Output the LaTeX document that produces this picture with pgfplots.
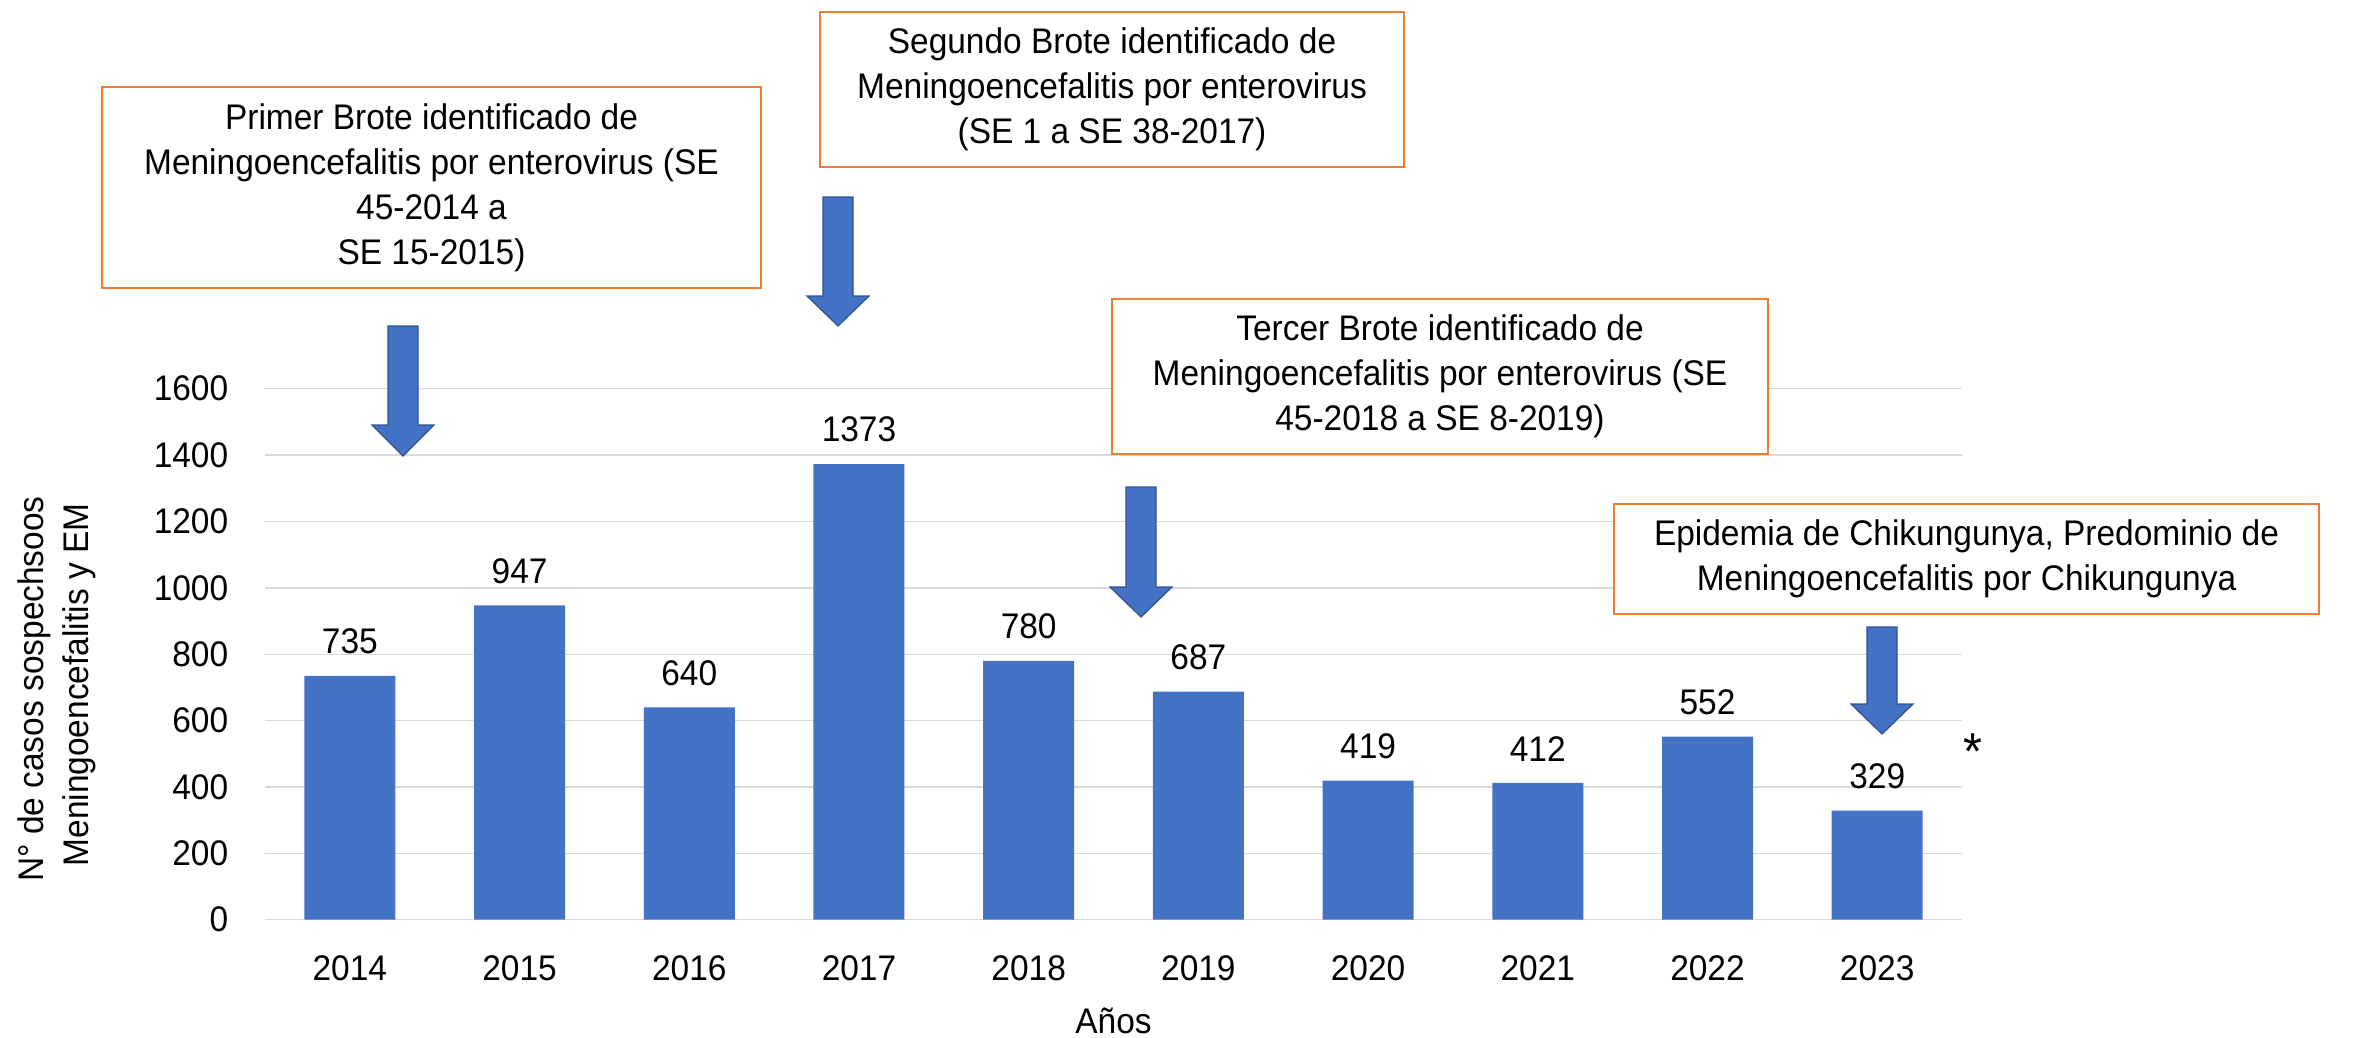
\documentclass[border=0pt]{standalone}
\usepackage{fontspec}
\setmainfont{Liberation Sans}[FakeStretch=0.94]
\usepackage{pgfplots}
\pgfplotsset{compat=1.18}
\definecolor{barblue}{HTML}{4472C4}
\definecolor{arrowedge}{HTML}{2F528F}
\definecolor{gridgray}{HTML}{D9D9D9}
\definecolor{boxorange}{HTML}{ED7D31}
\newcommand{\fs}{\fontsize{8.9pt}{11.25pt}\selectfont}
\newcommand{\DArrow}[4]{%
  \filldraw[fill=barblue, draw=arrowedge, line width=0.3pt]
    ({#1-15},#2) -- ({#1+15},#2) -- ({#1+15},#3) -- ({#1+31},#3) -- (#1,#4)
    -- ({#1-31},#3) -- ({#1-15},#3) -- cycle;}
\begin{document}
\begin{tikzpicture}
\begin{scope}[x=0.25pt,y=-0.25pt]
\path[use as bounding box] (0,0) rectangle (2361,1037);
\coordinate (AO) at (265,919.7);
\end{scope}
\begin{axis}[
  at={(AO)}, anchor=south west,
  scale only axis, width=424.25pt, height=132.75pt,
  xmin=-0.5, xmax=9.5, ymin=0, ymax=1600,
  ybar, bar width=22.75pt,
  xtick=data,
  xticklabels={2014,2015,2016,2017,2018,2019,2020,2021,2022,2023},
  ytick={0,200,400,600,800,1000,1200,1400,1600},
  ymajorgrids, grid style={gridgray, line width=0.35pt},
  axis line style={draw=none},
  major tick length=0pt,
  /pgf/number format/assume math mode=true,
  /pgf/number format/1000 sep={},
  ticklabel style={font=\fs},
  yticklabel style={inner sep=0pt, anchor=east, xshift=-9pt},
  xticklabel style={inner sep=0pt, anchor=north, yshift=-8.8pt},
  nodes near coords,
  nodes near coords style={font=\fs, inner sep=0pt, anchor=south, yshift=5.25pt},
  clip=false,
]
\addplot[fill=barblue, draw=none] coordinates {
  (0,735) (1,947) (2,640) (3,1373) (4,780) (5,687) (6,419) (7,412) (8,552) (9,329)
};
\end{axis}
\begin{scope}[x=0.25pt,y=-0.25pt]
% y axis title
\node[rotate=90, anchor=base, font=\fs, inner sep=0pt] at (43,689) {N° de casos sospechsoos};
\node[rotate=90, anchor=base, font=\fs, inner sep=0pt] at (88,685) {Meningoencefalitis y EM};
% x axis title
\node[anchor=base, font=\fs, inner sep=0pt] at (1113.5,1033) {Años};
% asterisk
\node[font=\fontsize{13pt}{15pt}\selectfont, inner sep=0pt] at (1973,752) {*};
% boxes
\draw[boxorange, line width=0.6pt, fill=white] (102,87) rectangle (761,288);
\node[align=center, font=\fs] at (431.5,187.5) {Primer Brote identificado de\\Meningoencefalitis por enterovirus (SE\\45-2014 a\\SE 15-2015)};
\draw[boxorange, line width=0.6pt, fill=white] (820,12) rectangle (1404,167);
\node[align=center, font=\fs] at (1112,89.5) {Segundo Brote identificado de\\Meningoencefalitis por enterovirus\\(SE 1 a SE 38-2017)};
\draw[boxorange, line width=0.6pt, fill=white] (1112,299) rectangle (1768,454);
\node[align=center, font=\fs] at (1440,376.5) {Tercer Brote identificado de\\Meningoencefalitis por enterovirus (SE\\45-2018 a SE 8-2019)};
\draw[boxorange, line width=0.6pt, fill=white] (1614,504) rectangle (2319,614);
\node[align=center, font=\fs] at (1966.5,559) {Epidemia de Chikungunya, Predominio de\\Meningoencefalitis por Chikungunya};
% arrows
\DArrow{403}{326}{425}{456}
\DArrow{838}{197}{296}{326}
\DArrow{1141}{487}{587}{617}
\DArrow{1882}{627}{704}{734}
\end{scope}
\end{tikzpicture}
\end{document}
